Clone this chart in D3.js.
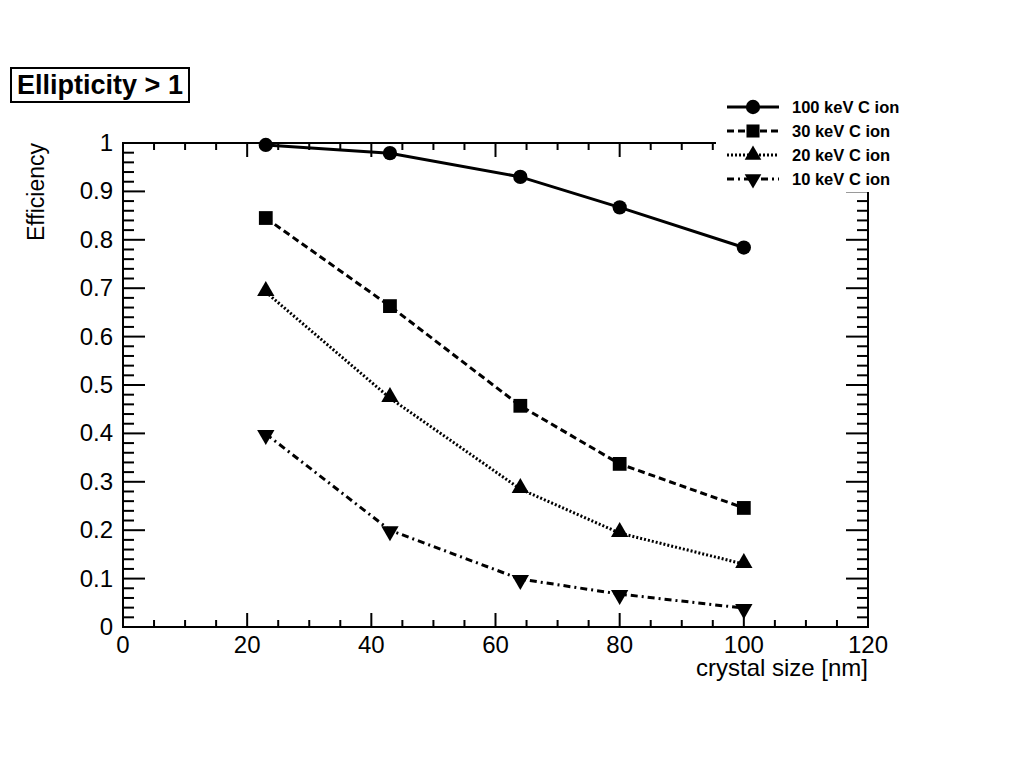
<!DOCTYPE html>
<html>
<head>
<meta charset="utf-8">
<script src="https://cdn.jsdelivr.net/npm/d3@7"></script>
<style>
  body { margin: 0; background: #fff; }
  text { font-family: "Liberation Sans", Arial, sans-serif; }
</style>
</head>
<body>
<div id="chart"></div>
<script>
// crystal sizes (nm)
const sizes = [23, 43, 64, 80, 100];
const eff100 = [0.996, 0.979, 0.930, 0.867, 0.784];
const eff30 = [0.845, 0.663, 0.457, 0.337, 0.246];
const eff20 = [0.692, 0.473, 0.285, 0.194, 0.130];
const eff10 = [0.399, 0.200, 0.099, 0.068, 0.039];
const seriesNames = ["100 keV C ion", "30 keV C ion", "20 keV C ion", "10 keV C ion"];
const xTicks = [0, 20, 40, 60, 80, 100, 120];
const yTicks = [0, 0.1, 0.2, 0.3, 0.4, 0.5, 0.6, 0.7, 0.8, 0.9, 1];

const series = [
  { name: seriesNames[0], vals: eff100, dash: null, marker: d3.symbolCircle },
  { name: seriesNames[1], vals: eff30, dash: "7,4", marker: d3.symbolSquare },
  { name: seriesNames[2], vals: eff20, dash: "2,2", marker: d3.symbolTriangle },
  { name: seriesNames[3], vals: eff10, dash: "7,4,2,4", marker: "down" }
];

const W = 1024, H = 768;
const pL = 123, pR = 868, pT = 143, pB = 627;

const svg = d3.select("#chart").append("svg")
    .attr("width", W).attr("height", H);

const x = d3.scaleLinear().domain([0, 120]).range([pL, pR]);
const y = d3.scaleLinear().domain([0, 1]).range([pB, pT]);

// frame
svg.append("rect")
    .attr("x", pL).attr("y", pT)
    .attr("width", pR - pL).attr("height", pB - pT)
    .attr("fill", "none").attr("stroke", "#000").attr("stroke-width", 2);

// x ticks (major 20, minor 5), bottom and top, pointing in
const xMinor = d3.range(0, 121, 5);
xMinor.forEach(v => {
  const major = v % 20 === 0;
  const len = major ? 14 : 7;
  svg.append("line").attr("x1", x(v)).attr("x2", x(v))
      .attr("y1", pB).attr("y2", pB - len)
      .attr("stroke", "#000").attr("stroke-width", 2);
  svg.append("line").attr("x1", x(v)).attr("x2", x(v))
      .attr("y1", pT).attr("y2", pT + len)
      .attr("stroke", "#000").attr("stroke-width", 2);
});

// y ticks (major 0.1, minor 0.02), left and right
const yMinor = d3.range(0, 51).map(i => i * 0.02);
yMinor.forEach((v, i) => {
  const major = i % 5 === 0;
  const len = major ? 22 : 11;
  svg.append("line").attr("x1", pL).attr("x2", pL + len)
      .attr("y1", y(v)).attr("y2", y(v))
      .attr("stroke", "#000").attr("stroke-width", 2);
  svg.append("line").attr("x1", pR).attr("x2", pR - len)
      .attr("y1", y(v)).attr("y2", y(v))
      .attr("stroke", "#000").attr("stroke-width", 2);
});

svg.selectAll(".xlab").data(xTicks).enter().append("text")
    .attr("x", d => x(d)).attr("y", pB + 26)
    .attr("text-anchor", "middle").attr("font-size", 24)
    .text(d => d);

svg.selectAll(".ylab").data(yTicks).enter().append("text")
    .attr("x", pL - 10).attr("y", d => y(d) + 8)
    .attr("text-anchor", "end").attr("font-size", 24)
    .text(d => d3.format("~g")(d));

svg.append("text")
    .attr("x", pR).attr("y", 676)
    .attr("text-anchor", "end").attr("font-size", 24)
    .text("crystal size [nm]");

svg.append("text")
    .attr("transform", `translate(44,${pT}) rotate(-90)`)
    .attr("text-anchor", "end").attr("font-size", 23)
    .text("Efficiency");

// title box
svg.append("rect")
    .attr("x", 11).attr("y", 68).attr("width", 178).attr("height", 34)
    .attr("fill", "#fff").attr("stroke", "#000").attr("stroke-width", 2);
svg.append("text")
    .attr("x", 100).attr("y", 94)
    .attr("text-anchor", "middle").attr("font-size", 27).attr("font-weight", "bold")
    .text("Ellipticity > 1");

function markerPath(m, size) {
  if (m === "down") {
    return d3.symbol().type(d3.symbolTriangle).size(size)();
  }
  return d3.symbol().type(m).size(size)();
}

const line = d3.line().x((d, i) => x(sizes[i])).y(d => y(d));

series.forEach(s => {
  svg.append("path")
      .attr("d", line(s.vals))
      .attr("fill", "none").attr("stroke", "#000").attr("stroke-width", 3)
      .attr("stroke-dasharray", s.dash);
  s.vals.forEach((v, i) => {
    const size = s.marker === d3.symbolCircle ? 160 : (s.marker === d3.symbolSquare ? 190 : 130);
    svg.append("path")
        .attr("d", markerPath(s.marker, size))
        .attr("transform", `translate(${x(sizes[i])},${y(v) + (s.marker === "down" ? 1 : (s.marker === d3.symbolTriangle ? -1 : 0))})` + (s.marker === "down" ? " rotate(180)" : ""))
        .attr("fill", "#000");
  });
});

// legend (white box, no border, covers the frame corner)
svg.append("rect")
    .attr("x", 716).attr("y", 90).attr("width", 200).attr("height", 102)
    .attr("fill", "#fff");

series.forEach((s, i) => {
  const ly = 107 + i * 24;
  svg.append("line")
      .attr("x1", 727).attr("x2", 779).attr("y1", ly).attr("y2", ly)
      .attr("stroke", "#000").attr("stroke-width", 3)
      .attr("stroke-dasharray", s.dash);
  const size = s.marker === d3.symbolCircle ? 160 : (s.marker === d3.symbolSquare ? 170 : 120);
  svg.append("path")
      .attr("d", markerPath(s.marker, size))
      .attr("transform", `translate(753,${ly})` + (s.marker === "down" ? " rotate(180)" : ""))
      .attr("fill", "#000");
  svg.append("text")
      .attr("x", 792).attr("y", ly + 6)
      .attr("font-size", 16.5).attr("font-weight", "bold")
      .text(s.name);
});
</script>
</body>
</html>
